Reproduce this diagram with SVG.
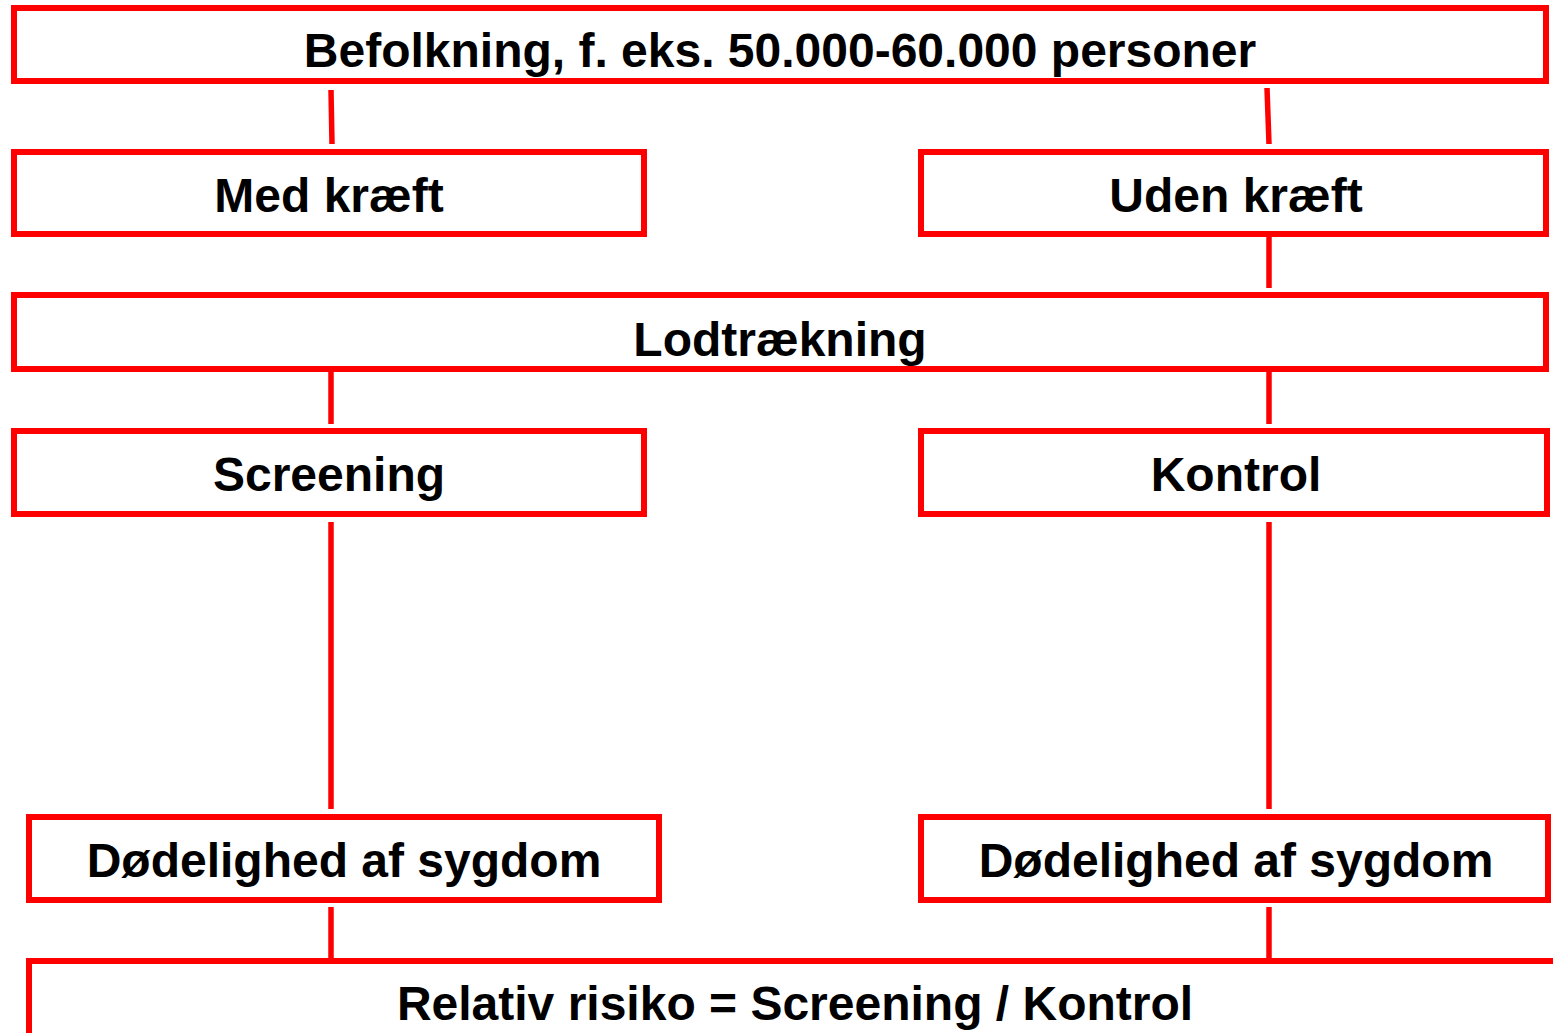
<svg xmlns="http://www.w3.org/2000/svg" width="1553" height="1033" viewBox="0 0 1553 1033">
<style>
.box{fill:#fff;stroke:#ff0000;stroke-width:6}
.c{stroke:#ff0000;stroke-width:5.5;fill:none}
.t{font-family:"Liberation Sans",Arial,sans-serif;font-weight:bold;font-size:48px;fill:#000;text-anchor:middle}
</style>
<rect width="1553" height="1033" fill="#fff"/>
<g id="connectors">
<line class="c" x1="331" y1="90" x2="332" y2="144"/>
<line class="c" x1="1267" y1="88" x2="1269" y2="144"/>
<line class="c" x1="1269" y1="237" x2="1269" y2="288"/>
<line class="c" x1="331" y1="372" x2="331" y2="424"/>
<line class="c" x1="1269" y1="372" x2="1269" y2="424"/>
<line class="c" x1="331" y1="522" x2="331" y2="809"/>
<line class="c" x1="1269" y1="522" x2="1269" y2="809"/>
<line class="c" x1="331" y1="907" x2="331" y2="961"/>
<line class="c" x1="1269" y1="907" x2="1269" y2="961"/>
</g>
<g id="befolkning">
<rect class="box" x="14" y="8" width="1532" height="73"/>
<text class="t" x="780" y="67">Befolkning, f. eks. 50.000-60.000 personer</text>
</g>
<g id="med-kraeft">
<rect class="box" x="14" y="152" width="630" height="82"/>
<text class="t" x="329" y="212">Med kræft</text>
</g>
<g id="uden-kraeft">
<rect class="box" x="921" y="152" width="625" height="82"/>
<text class="t" x="1236" y="212">Uden kræft</text>
</g>
<g id="lodtraekning">
<rect class="box" x="14" y="295" width="1532" height="74"/>
<text class="t" x="780" y="356">Lodtrækning</text>
</g>
<g id="screening">
<rect class="box" x="14" y="431" width="630" height="83"/>
<text class="t" x="329" y="491">Screening</text>
</g>
<g id="kontrol">
<rect class="box" x="921" y="431" width="626" height="83"/>
<text class="t" x="1236" y="491">Kontrol</text>
</g>
<g id="doedelighed-screening">
<rect class="box" x="29" y="817" width="630" height="83"/>
<text class="t" x="344" y="877">Dødelighed af sygdom</text>
</g>
<g id="doedelighed-kontrol">
<rect class="box" x="921" y="817" width="627" height="83"/>
<text class="t" x="1236" y="877">Dødelighed af sygdom</text>
</g>
<g id="relativ-risiko">
<rect class="box" x="29" y="961" width="1600" height="200"/>
<text class="t" x="795" y="1020">Relativ risiko = Screening / Kontrol</text>
</g>
</svg>
